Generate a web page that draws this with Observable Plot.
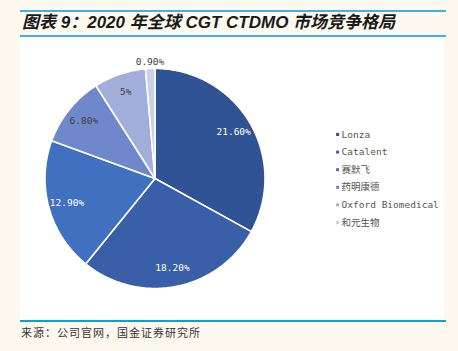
<!DOCTYPE html>
<html>
<head>
<meta charset="utf-8">
<script src="https://cdn.jsdelivr.net/npm/d3@7"></script>
<script src="https://cdn.jsdelivr.net/npm/@observablehq/plot@0.6"></script>
<style>
  html, body { margin: 0; padding: 0; }
  body { width: 458px; height: 351px; background: #fdf9ef; position: relative; overflow: hidden; font-family: "Noto Sans CJK SC", sans-serif; }
  .rule { position: absolute; left: 20px; width: 426px; height: 2px; background: #3db2ea; }
  #title { position: absolute; left: 22px; top: 12px; font-family: "Liberation Sans", "Noto Sans CJK SC", sans-serif; font-size: 17px; font-weight: bold; font-style: italic; color: #1a1a1a; white-space: nowrap; line-height: 22px; }
  #panel { position: absolute; left: 20px; top: 37px; width: 424px; height: 283px; background: #ffffff; }
  #caption { position: absolute; left: 21px; top: 324px; font-size: 11px; letter-spacing: 1px; color: #333; line-height: 16px; white-space: nowrap; }
</style>
</head>
<body>
<div class="rule" style="top:10px"></div>
<div id="title">图表 9：2020 年全球 CGT CTDMO 市场竞争格局</div>
<div class="rule" style="top:35px"></div>
<div id="panel"></div>
<div class="rule" style="top:320px; background:#00a2e8"></div>
<div id="caption">来源：公司官网，国金证券研究所</div>
<script>
const companies = ["Lonza", "Catalent", "赛默飞", "药明康德", "Oxford Biomedical", "和元生物"];
const shares = [21.6, 18.2, 12.9, 6.8, 5, 0.9];
const shareLabels = ["21.60%", "18.20%", "12.90%", "6.80%", "5%", "0.90%"];
const colors = ["#2f5394", "#3a5fa9", "#4270c0", "#6f88cc", "#a1aed9", "#c8d0ea"];
const labelColors = ["#ffffff", "#ffffff", "#ffffff", "#404040", "#404040", "#404040"];

const data = companies.map((name, i) => ({name, value: shares[i], label: shareLabels[i], color: colors[i], labelColor: labelColors[i]}));
const arcs = d3.pie().sort(null).value(d => d.value)(data);

// Build slice polygons (unit radius) from pie angles
const slices = arcs.map(a => {
  const pts = [{x: 0, y: 0}];
  const n = Math.max(2, Math.ceil((a.endAngle - a.startAngle) / (Math.PI / 180)));
  for (let k = 0; k <= n; k++) {
    const t = a.startAngle + (a.endAngle - a.startAngle) * k / n;
    pts.push({x: Math.sin(t), y: Math.cos(t)});
  }
  return {pts, color: a.data.color};
});

const labels = arcs.map(a => {
  const mid = (a.startAngle + a.endAngle) / 2;
  const frac = (a.endAngle - a.startAngle) / (2 * Math.PI);
  const r = frac < 0.02 ? 1.06 : 0.83;
  return {x: Math.sin(mid) * r, y: Math.cos(mid) * r, label: a.data.label, color: a.data.labelColor};
});

const legend = data.map((d, i) => ({x: 1.66, y: 0.40 - i * 0.16, name: d.name, color: d.color}));

const W = 424, H = 283;
const cx = 134.5, cy = 141, R = 110;

const chart = Plot.plot({
  width: W,
  height: H,
  margin: 0,
  style: {background: "transparent", overflow: "visible"},
  x: {domain: [-1, 1], range: [cx - R, cx + R], axis: null},
  y: {domain: [-1, 1], range: [cy + R, cy - R], axis: null},
  marks: [
    ...slices.map(s => Plot.line(s.pts, {x: "x", y: "y", fill: s.color, stroke: "#ffffff", strokeWidth: 1.6, curve: "linear-closed", strokeLinejoin: "round"})),
    Plot.text(labels, {x: "x", y: "y", text: "label", fill: d => d.color, fontSize: 9.5, fontFamily: "DejaVu Sans Mono, monospace"}),
    Plot.dot(legend, {x: "x", y: "y", symbol: "square", r: 1.7, fill: d => d.color, stroke: null}),
    Plot.text(legend, {x: "x", y: "y", text: "name", dx: 4, textAnchor: "start", fill: "#555555", fontSize: 9.5, fontFamily: "DejaVu Sans Mono, Noto Sans CJK SC, monospace"})
  ]
});

document.getElementById("panel").appendChild(chart);
</script>
</body>
</html>
